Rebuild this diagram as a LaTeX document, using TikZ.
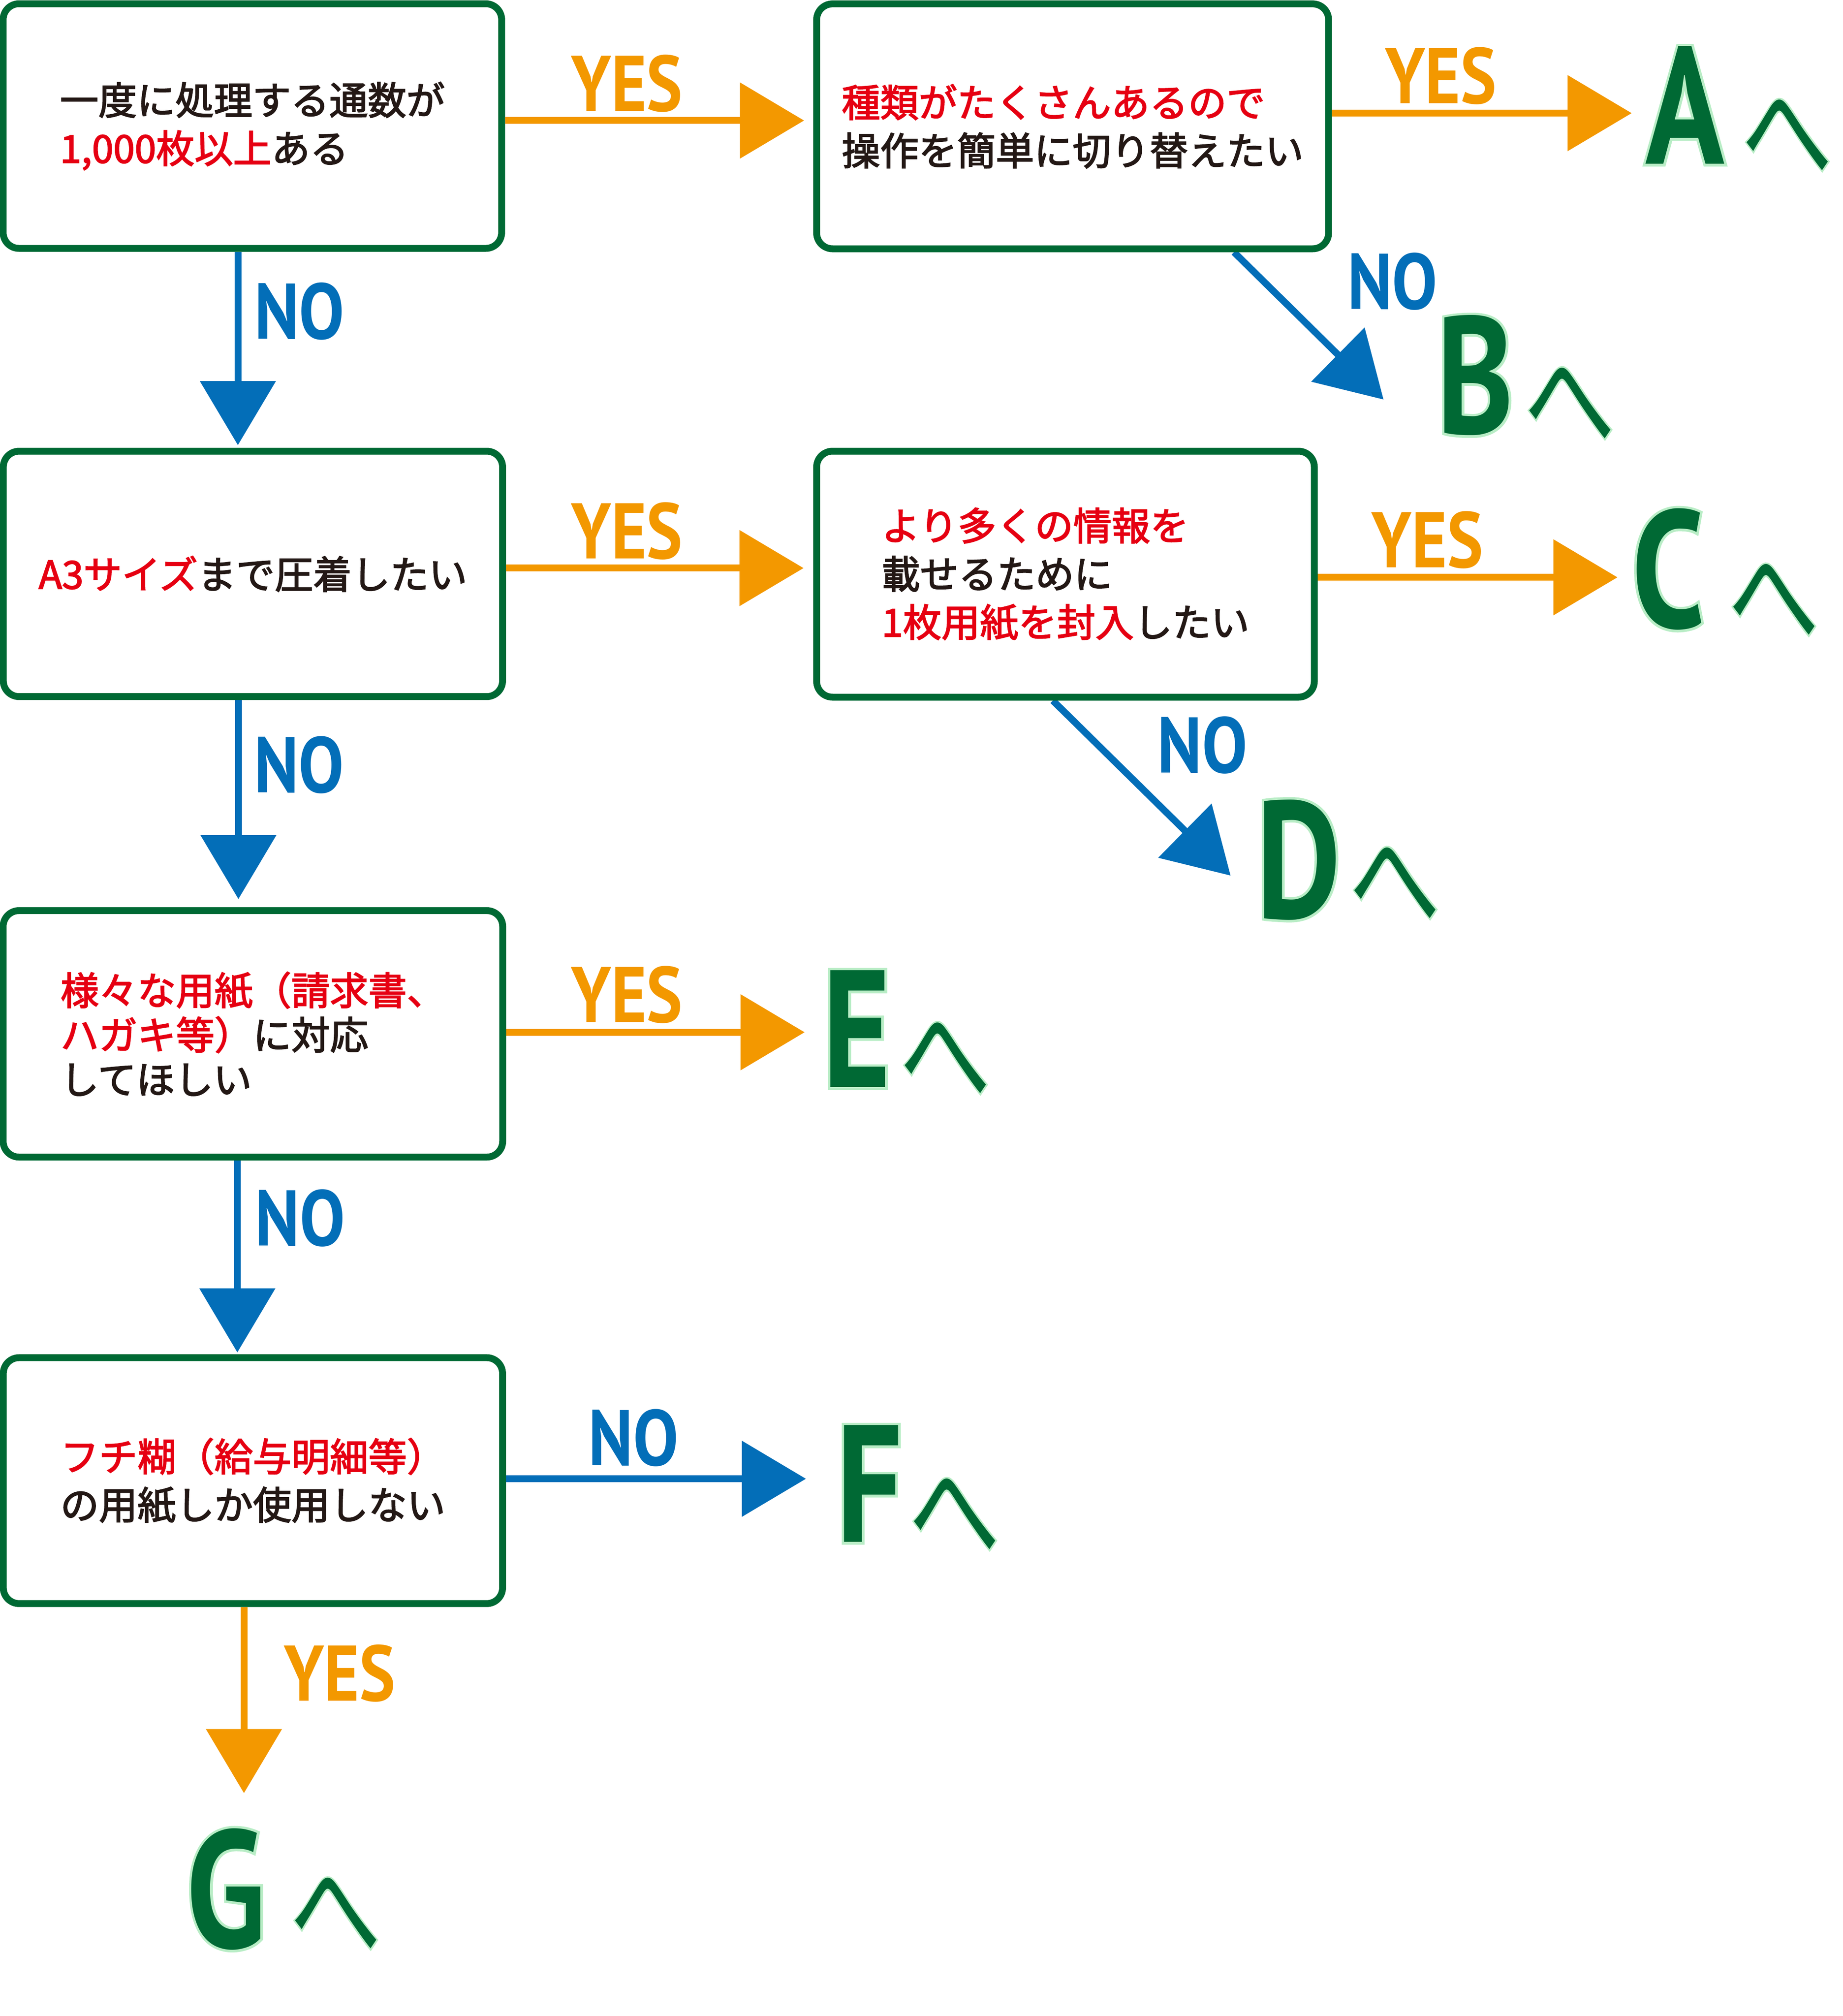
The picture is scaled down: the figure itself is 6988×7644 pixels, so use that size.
\documentclass[tikz,border=0pt]{standalone}
\usepackage{fontspec}
\usetikzlibrary{arrows.meta,backgrounds}
\newfontfamily\jp{Noto Sans CJK JP}
\newfontfamily\jptext[FakeBold=2.5]{Noto Sans CJK JP}
\newfontfamily\jpglow[FakeBold=3]{Noto Sans CJK JP}
\newfontfamily\lblfont[FakeStretch=0.86]{PT Sans}
\newfontfamily\bigletters[FakeStretch=0.78]{PT Sans}
\newfontfamily\bigglow[FakeStretch=0.78,FakeBold=3]{PT Sans}
\definecolor{boxgreen}{HTML}{006934}
\definecolor{yesorange}{HTML}{F39800}
\definecolor{noblue}{HTML}{036EB8}
\definecolor{hlred}{HTML}{E60012}
\definecolor{txtblack}{HTML}{231815}
\definecolor{glow}{HTML}{B9EDC6}
\newcommand\rd[1]{{\color{hlred}#1}}
\newcommand\glowlet[1]{\rlap{\bigglow\color{glow}#1}#1}
\newcommand\glowhe{\rlap{\jpglow\color{glow}へ}へ}
\tikzset{
  qbox/.style={rectangle, rounded corners=0.6cm, draw=boxgreen, line width=0.26cm,
    fill=white, inner sep=0pt, align=left, text=txtblack,
    font={\jptext\fontsize{41.5pt}{52pt}\selectfont}},
  yeslbl/.style={inner sep=0pt, text=yesorange, font={\lblfont\bfseries\fontsize{85pt}{85pt}\selectfont}},
  nolbl/.style={inner sep=0pt, text=noblue, font={\lblfont\bfseries\fontsize{85pt}{85pt}\selectfont}},
  goal/.style={inner sep=0pt, text=boxgreen, font={\bigletters\bfseries\fontsize{180pt}{180pt}\selectfont}},
  hena/.style={inner sep=0pt, text=boxgreen, yscale=1.3, font={\jp\fontsize{98pt}{98pt}\selectfont}},
  yesarrow/.style={draw=yesorange, line width=0.26cm, -{Triangle[length=2.43cm,width=2.82cm]}},
  noarrow/.style={draw=noblue, line width=0.26cm, -{Triangle[length=2.43cm,width=2.82cm]}}
}
\begin{document}
\begin{tikzpicture}[x=0.01cm, y=-0.01cm]
\useasboundingbox (0,0) rectangle (6988,7644);

% question boxes
\node[qbox, minimum width=18.89cm, minimum height=9.27cm] (box1) at (957,478)
  {一度に処理する通数が\\\rd{1,000枚以上}ある};
\node[qbox, minimum width=19.40cm, minimum height=9.28cm] (box2) at (4067,479)
  {\rd{種類がたくさんあるので}\\操作を簡単に切り替えたい};
\node[qbox, minimum width=18.92cm, minimum height=9.30cm] (box3) at (959,2176)
  {\rd{A3サイズ}まで圧着したい};
\node[qbox, minimum width=18.86cm, minimum height=9.32cm] (box4) at (4040,2177)
  {\rd{より多くの情報を}\\載せるために\\\rd{1枚用紙を封入}したい};
\node[qbox, minimum width=18.93cm, minimum height=9.34cm,
  font={\jptext\fontsize{41.5pt}{48pt}\selectfont}] (box5) at (959,3920)
  {\rd{様々な用紙（請求書、}\\\rd{ハガキ等）}に対応\\してほしい};
\node[qbox, minimum width=18.92cm, minimum height=9.32cm] (box6) at (959,5614)
  {\rd{フチ糊（給与明細等）}\\の用紙しか使用しない};

% labels
\node[yeslbl] (y1) at (2377,316) {YES};
\node[nolbl]  (n1) at (1136,1180) {NO};
\node[yeslbl] (y2) at (5463,288) {YES};
\node[nolbl]  (n2) at (5280,1067) {NO};
\node[yeslbl] (y3) at (2377,2013) {YES};
\node[nolbl]  (n3) at (1134,2900) {NO};
\node[yeslbl] (y4) at (5412,2047) {YES};
\node[nolbl]  (n4) at (4559,2825) {NO};
\node[yeslbl] (y5) at (2377,3772) {YES};
\node[nolbl]  (n5) at (1138,4619) {NO};
\node[nolbl]  (n6) at (2402,5451) {NO};
\node[yeslbl] (y6) at (1288,6344) {YES};

% goals
\node[goal] (gA) at (6389,399) {\glowlet{A}};
\node[hena] (hA) at (6776,515) {\glowhe};
\node[goal] (gB) at (5594,1423) {\glowlet{B}};
\node[hena] (hB) at (5952,1532) {\glowhe};
\node[goal] (gC) at (6325,2158) {\glowlet{C}};
\node[hena] (hC) at (6725,2277) {\glowhe};
\node[goal] (gD) at (4924,3260) {\glowlet{D}};
\node[hena] (hD) at (5289,3351) {\glowhe};
\node[goal] (gE) at (3249,3901) {\glowlet{E}};
\node[hena] (hE) at (3584,4015) {\glowhe};
\node[goal] (gF) at (3297,5626) {\glowlet{F}};
\node[hena] (hF) at (3619,5744) {\glowhe};
\node[goal] (gG) at (858,7163) {\glowlet{G}};
\node[hena] (hG) at (1272,7258) {\glowhe};

% arrow tip / start coordinates
\coordinate (t1) at (3049,457);
\coordinate (t2) at (6187,429);
\coordinate (s3) at (4679,943);
\coordinate (t3) at (5246,1515);
\coordinate (t4) at (3047,2154);
\coordinate (t5) at (6133,2189);
\coordinate (s6) at (3992,2643);
\coordinate (t6) at (4666,3320);
\coordinate (t7) at (3051,3914);
\coordinate (t8) at (3056,5607);
\coordinate (d1) at (902,1688);
\coordinate (d2) at (904,3409);
\coordinate (d3) at (900,5128);
\coordinate (d4) at (925,6799);

\begin{scope}[on background layer]
\draw[yesarrow] (box1.east |- t1) -- (t1);
\draw[yesarrow] (box2.east |- t2) -- (t2);
\draw[noarrow]  (box2.south -| s3) -- (t3);
\draw[yesarrow] (box3.east |- t4) -- (t4);
\draw[yesarrow] (box4.east |- t5) -- (t5);
\draw[noarrow]  (box4.south -| s6) -- (t6);
\draw[yesarrow] (box5.east |- t7) -- (t7);
\draw[noarrow]  (box6.east |- t8) -- (t8);
\draw[noarrow]  (box1.south -| d1) -- (d1);
\draw[noarrow]  (box3.south -| d2) -- (d2);
\draw[noarrow]  (box5.south -| d3) -- (d3);
\draw[yesarrow] (box6.south -| d4) -- (d4);
\end{scope}
\end{tikzpicture}
\end{document}
